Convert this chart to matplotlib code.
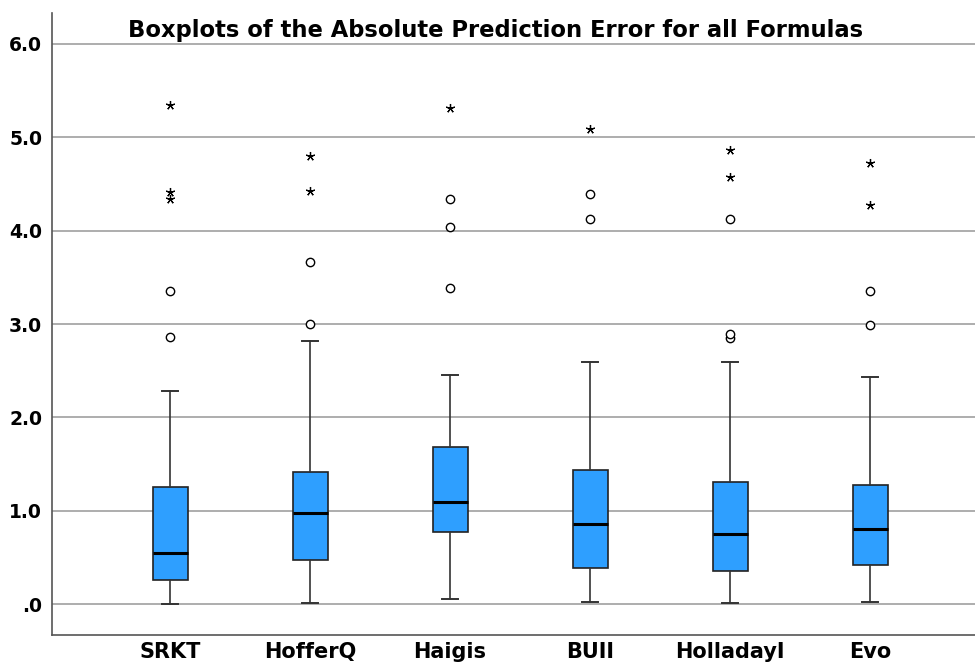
import matplotlib
matplotlib.use("Agg")
import matplotlib.pyplot as plt

formulas = ["SRKT", "HofferQ", "Haigis", "BUII", "HolladayI", "Evo"]
whislo = [0.00, 0.01, 0.06, 0.02, 0.01, 0.02]
q1 = [0.26, 0.47, 0.77, 0.39, 0.35, 0.42]
median = [0.55, 0.98, 1.09, 0.86, 0.75, 0.80]
q3 = [1.26, 1.41, 1.68, 1.44, 1.31, 1.28]
whishi = [2.28, 2.82, 2.45, 2.59, 2.59, 2.43]
outliers = [
    [2.86, 3.35],
    [3.00, 3.66],
    [3.39, 4.04, 4.34],
    [4.12, 4.39],
    [2.85, 2.89, 4.12],
    [2.99, 3.35],
]
extremes = [
    [5.35, 4.41, 4.34],
    [4.80, 4.42],
    [5.31],
    [5.09],
    [4.86, 4.57],
    [4.72, 4.27],
]
yticks = [0, 1, 2, 3, 4, 5, 6]
ytick_labels = [".0", "1.0", "2.0", "3.0", "4.0", "5.0", "6.0"]
title = "Boxplots of the Absolute Prediction Error for all Formulas"

fig = plt.figure(figsize=(9.75, 6.64), dpi=100)
ax = fig.add_axes([52/975, 29/664, 1 - 52/975, (635-13)/664])

stats = []
for i, name in enumerate(formulas):
    stats.append(dict(label=name, whislo=whislo[i], q1=q1[i], med=median[i],
                      q3=q3[i], whishi=whishi[i], fliers=[]))
positions = list(range(1, len(formulas) + 1))

ax.set_axisbelow(True)
ax.yaxis.grid(True, color="#a0a0a0", linewidth=1.2)
ax.bxp(stats, positions=positions, widths=0.25, patch_artist=True,
       showfliers=False,
       boxprops=dict(facecolor="#2e9fff", edgecolor="#222222", linewidth=1.2),
       medianprops=dict(color="black", linewidth=2.2),
       whiskerprops=dict(color="#333333", linewidth=1.2),
       capprops=dict(color="#333333", linewidth=1.4),
       capwidths=0.12)

for i, p in enumerate(positions):
    ax.plot([p] * len(outliers[i]), outliers[i], linestyle="none", marker="o",
            markersize=6, markerfacecolor="white", markeredgecolor="black",
            markeredgewidth=1.0, zorder=5)
    ax.plot([p] * len(extremes[i]), extremes[i], linestyle="none", marker=(5, 2, 0),
            markersize=6.5, color="black", markeredgewidth=0.9, zorder=5)

ax.set_xlim(0.157, 6.75)
ax.set_ylim(-0.33, 6.33)
ax.set_yticks(yticks)
ax.set_yticklabels(ytick_labels, fontsize=13.5, fontweight="bold")
ax.set_xticks(positions)
ax.set_xticklabels(formulas, fontsize=15, fontweight="bold")
ax.tick_params(axis="both", length=0)
ax.tick_params(axis="y", pad=7)
ax.tick_params(axis="x", pad=5)
for s in ["top", "right"]:
    ax.spines[s].set_visible(False)
for s in ["left", "bottom"]:
    ax.spines[s].set_color("#555555")
    ax.spines[s].set_linewidth(1.2)

fig.text(496/975, 1 - 30/664, title, ha="center", va="center",
         fontsize=16.3, fontweight="bold")

fig.savefig("out.png", dpi=100)
